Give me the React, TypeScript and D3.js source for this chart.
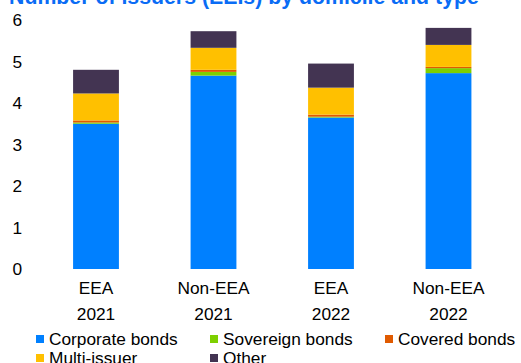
import React from "react";
import * as d3 from "d3";

const categories = ["EEA|2021", "Non-EEA|2021", "EEA|2022", "Non-EEA|2022"];
const seriesNames = ["Corporate bonds", "Sovereign bonds", "Covered bonds", "Multi-issuer", "Other"];
const corporate = [3.5, 4.66, 3.65, 4.72];
const sovereign = [0.03, 0.09, 0.02, 0.12];
const covered = [0.05, 0.05, 0.05, 0.03];
const multiIssuer = [0.65, 0.53, 0.65, 0.53];
const other = [0.57, 0.4, 0.58, 0.41];
const colors = ["#0080ff", "#7ed000", "#e05a00", "#ffc000", "#433452"];
const yTicks = [0, 1, 2, 3, 4, 5, 6];
const title = "Number of issuers (EEIs) by domicile and type";

export default function App() {
  const W = 521, H = 363;
  const font = "'Liberation Sans', Arial, sans-serif";
  const x = d3.scaleBand().domain(categories).range([37.25, 507.25]).paddingInner(0.61).paddingOuter(0.305);
  const y = d3.scaleLinear().domain([0, 6]).range([269, 20]);
  const table = categories.map((c, i) => ({
    cat: c,
    s0: corporate[i], s1: sovereign[i], s2: covered[i], s3: multiIssuer[i], s4: other[i],
  }));
  const stack = d3.stack<any>().keys(["s0", "s1", "s2", "s3", "s4"])(table);
  const legendPos = [
    [36, 339], [210, 339], [385, 339], [36, 358], [210, 358],
  ];
  return (
    <svg width={W} height={H} style={{ position: "absolute", left: 0, top: 0 }} fontFamily={font}>
      <rect width={W} height={H} fill="#fff" />
      <text x={9} y={4} fontSize={21.3} fontWeight="bold" fill="#0a6cf5">{title}</text>
      {yTicks.map((t) => (
        <text key={t} x={22} y={y(t) + 6} fontSize={17.3} textAnchor="end" fill="#000">{t}</text>
      ))}
      {stack.map((layer, si) => (
        <g key={si} fill={colors[si]}>
          {layer.map((d, i) => (
            <rect key={i} x={x(categories[i])} width={x.bandwidth()} y={y(d[1])} height={y(d[0]) - y(d[1])} />
          ))}
        </g>
      ))}
      {categories.map((c) => {
        const [a, b] = c.split("|");
        const cx = (x(c) as number) + x.bandwidth() / 2;
        return (
          <g key={c} fontSize={17.3} textAnchor="middle" fill="#000">
            <text x={cx} y={294}>{a}</text>
            <text x={cx} y={320}>{b}</text>
          </g>
        );
      })}
      {seriesNames.map((n, i) => (
        <g key={n}>
          <rect x={legendPos[i][0]} y={legendPos[i][1] - 4} width={8} height={8} fill={colors[i]} />
          <text x={legendPos[i][0] + 13} y={legendPos[i][1] + 6} fontSize={17.3} fill="#000">{n}</text>
        </g>
      ))}
    </svg>
  );
}
